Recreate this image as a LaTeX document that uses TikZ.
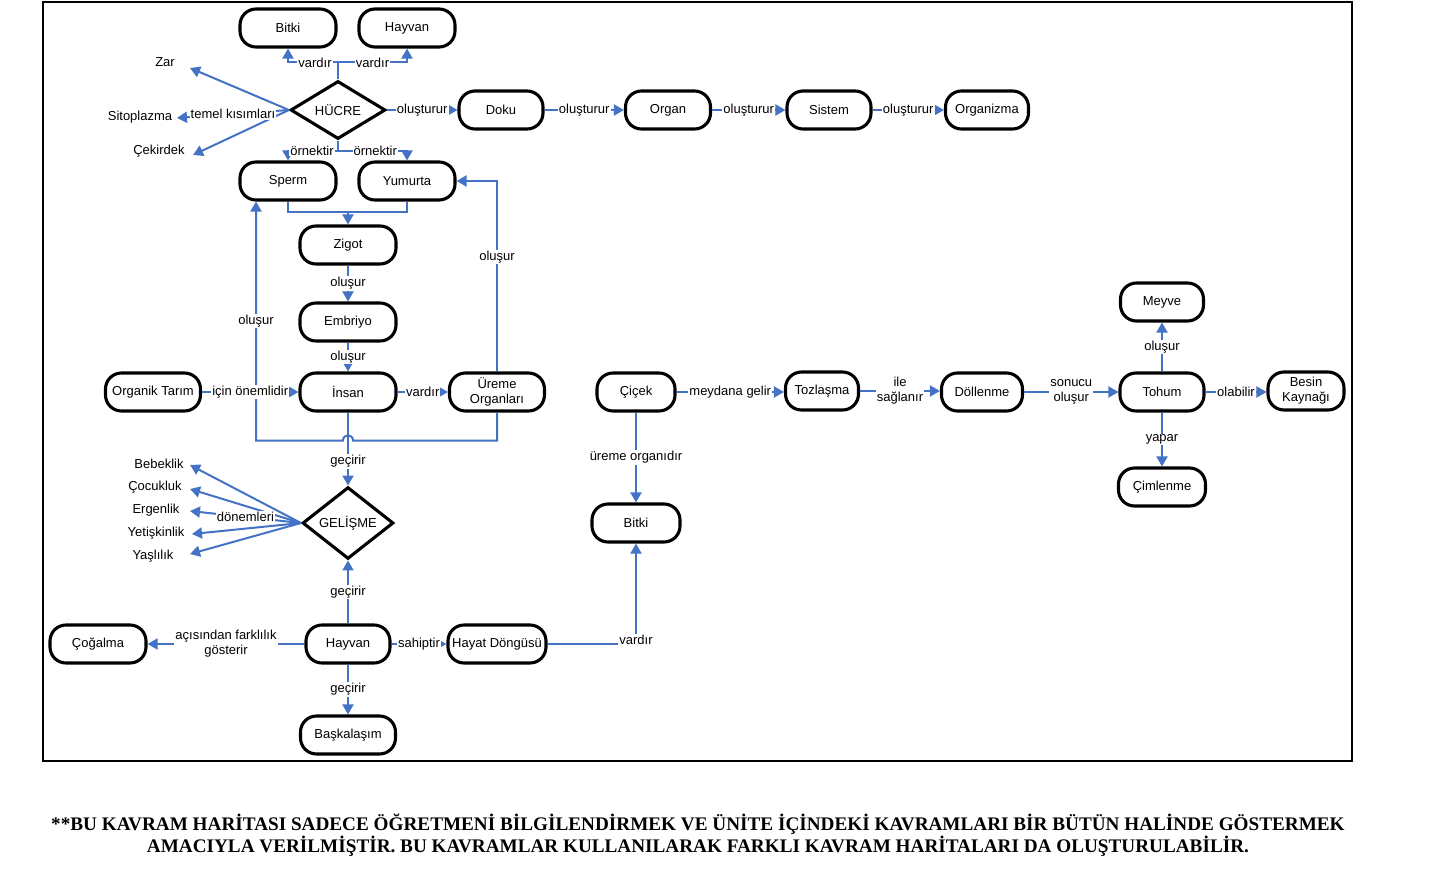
\documentclass[tikz,border=0pt]{standalone}
\usepackage{fontspec}
\setmainfont{Liberation Sans}
\newfontfamily\serifb{Liberation Serif}
\usetikzlibrary{shapes.geometric,arrows.meta,calc}
\definecolor{arrblue}{RGB}{68,114,196}
\newcommand{\nf}{\fontsize{13}{15}\selectfont}
\newcommand{\footf}{\serifb\bfseries\fontsize{19.2}{20}\selectfont}
\begin{document}
\begin{tikzpicture}[x=1pt,y=-1pt,
 box/.style={draw=black, line width=3.1pt, rounded corners=16pt, minimum height=38pt, inner sep=1pt, align=center, font=\nf},
 dia/.style={draw=black, line width=3.1pt, diamond, inner sep=0pt, font=\nf},
 ln/.style={draw=arrblue, line width=2pt},
 arr/.style={ln, -{Triangle[width=11pt,length=10pt]}},
 lab/.style={fill=white, inner sep=1pt, font=\nf, align=center},
 txt/.style={font=\nf, inner sep=0pt}
]
\useasboundingbox (0,0) rectangle (1448,875);
\draw[line width=1.2pt] (43,2) rectangle (1352,761);

% nodes
\node[box, minimum width=96pt] (bitkiT) at (288,28) {Bitki};
\node[box, minimum width=96pt] (hayvanT) at (407,28) {Hayvan};
\node[dia, minimum width=95pt, minimum height=58pt] (hucre) at (338,110) {HÜCRE};
\node[box, minimum width=84pt] (doku) at (501,110) {Doku};
\node[box, minimum width=85pt] (organ) at (668,110) {Organ};
\node[box, minimum width=84pt] (sistem) at (829,110) {Sistem};
\node[box, minimum width=83pt] (organizma) at (987,110) {Organizma};
\node[txt] (zar) at (165,62) {Zar};
\node[txt] (sito) at (140,117) {Sitoplazma};
\node[txt] (cek) at (159,151) {Çekirdek};
\node[box, minimum width=96pt] (sperm) at (288,181) {Sperm};
\node[box, minimum width=96pt] (yumurta) at (407,181) {Yumurta};
\node[box, minimum width=96pt] (zigot) at (348,245) {Zigot};
\node[box, minimum width=96pt] (embriyo) at (348,322) {Embriyo};
\node[box, minimum width=96pt] (insan) at (348,392) {İnsan};
\node[box, minimum width=95pt] (ureme) at (497,392) {Üreme\\Organları};
\node[box, minimum width=95pt] (organik) at (153,392) {Organik Tarım};
\node[dia, minimum width=91pt, minimum height=57pt] (gel) at (348,523) {GELİŞME};
\node[txt] (bebek) at (159,464) {Bebeklik};
\node[txt] (cocuk) at (155,487) {Çocukluk};
\node[txt] (ergen) at (156,510) {Ergenlik};
\node[txt] (yetis) at (156,533) {Yetişkinlik};
\node[txt] (yasli) at (153,556) {Yaşlılık};
\node[box, minimum width=84pt] (hayvanB) at (348,644) {Hayvan};
\node[box, minimum width=96pt] (cogalma) at (98,644) {Çoğalma};
\node[box, minimum width=98pt] (hayat) at (497,644) {Hayat Döngüsü};
\node[box, minimum width=95pt] (baskal) at (348,735) {Başkalaşım};
\node[box, minimum width=88pt] (bitkiB) at (636,523) {Bitki};
\node[box, minimum width=78pt] (cicek) at (636,392) {Çiçek};
\node[box, minimum width=73pt] (tozlasma) at (822,391) {Tozlaşma};
\node[box, minimum width=81pt] (dollenme) at (982,392) {Döllenme};
\node[box, minimum width=84pt] (tohum) at (1162,392) {Tohum};
\node[box, minimum width=76pt] (besin) at (1306,391) {Besin\\Kaynağı};
\node[box, minimum width=83pt] (meyve) at (1162,302) {Meyve};
\node[box, minimum width=87pt] (cimlenme) at (1162,487) {Çimlenme};

% HÜCRE connectors
\coordinate (ht) at ($(hucre.north)+(0,-17)$);
\draw[ln] (hucre.north) -- (ht);
\draw[arr] (ht) -| node[lab,pos=0.23]{vardır} (bitkiT.south);
\draw[arr] (ht) -| node[lab,pos=0.25]{vardır} (hayvanT.south);
\coordinate (zarT) at (190,68);
\coordinate (sitoT) at (177,118);
\coordinate (cekT) at (193,155);
\draw[arr] (hucre.west) -- (zarT);
\draw[arr] (hucre.west) -- (cekT);
\draw[arr] (hucre.west) -- node[lab]{temel kısımları} (sitoT);
\draw[arr] (hucre.east) -- node[lab]{oluşturur} (doku.west);
\draw[arr] (doku.east) -- node[lab]{oluşturur} (organ.west);
\draw[arr] (organ.east) -- node[lab]{oluşturur} (sistem.west);
\draw[arr] (sistem.east) -- node[lab]{oluşturur} (organizma.west);
\coordinate (hb) at ($(hucre.south)+(0,10)$);
\draw[ln] (hucre.south) -- (hb);
\draw[arr] (hb) -| node[lab,pos=0.26]{örnektir} (sperm.north);
\draw[arr] (hb) -| node[lab,pos=0.27]{örnektir} (yumurta.north);

% Sperm / Yumurta -> Zigot
\coordinate (sj) at ($(sperm.south)+(0,10)$);
\draw[ln] (sperm.south) -- (sj) -| (yumurta.south);
\draw[arr] (zigot.north |- sj) -- (zigot.north);
\draw[arr] (zigot.south) -- node[lab]{oluşur} (embriyo.north);
\draw[arr] (embriyo.south) -- node[lab]{oluşur} (insan.north);
\draw[arr] (ureme.north) |- node[lab,pos=0.3]{oluşur} (yumurta.east);
\coordinate (ub) at ($(ureme.south)+(0,28)$);
\coordinate (hop) at (insan.south |- ub);
\coordinate (sp) at ($(sperm.south)+(-32,0)$);
\draw[arr] (ureme.south) -- (ub) -- ($(hop)+(5,0)$) .. controls ($(hop)+(5,-7)$) and ($(hop)+(-5,-7)$) .. ($(hop)+(-5,0)$) -- (sp |- ub) -- node[lab]{oluşur} (sp);
\draw[arr] (organik.east) -- node[lab]{için önemlidir} (insan.west);
\draw[arr] (insan.east) -- node[lab]{vardır} (ureme.west);

% GELİŞME
\draw[arr] (insan.south) -- node[lab,pos=0.67]{geçirir} (gel.north);
\coordinate (t1) at (190,465);
\coordinate (t2) at (190,489);
\coordinate (t3) at (190,511);
\coordinate (t4) at (192,534);
\coordinate (t5) at (190,554);
\draw[arr] (gel.west) -- (t1);
\draw[arr] (gel.west) -- (t2);
\draw[arr] (gel.west) -- (t4);
\draw[arr] (gel.west) -- (t5);
\draw[arr] (gel.west) -- node[lab]{dönemleri} (t3);
\draw[arr] (hayvanB.north) -- node[lab]{geçirir} (gel.south);
\draw[arr] (hayvanB.west) -- node[lab]{açısından farklılık\\gösterir} (cogalma.east);
\draw[arr] (hayvanB.east) -- node[lab]{sahiptir} (hayat.west);
\draw[arr] (hayvanB.south) -- node[lab]{geçirir} (baskal.north);
\draw[arr] (hayat.east) -| node[lab,pos=0.5,yshift=4pt]{vardır} (bitkiB.south);

% plant chain
\draw[arr] (cicek.south) -- node[lab]{üreme organıdır} (bitkiB.north);
\draw[arr] (cicek.east) -- node[lab]{meydana gelir} (cicek.east -| tozlasma.west);
\draw[arr] (tozlasma.east) -- node[lab]{ile\\sağlanır} (tozlasma.east -| dollenme.west);
\draw[arr] (dollenme.east) -- node[lab]{sonucu\\oluşur} (tohum.west);
\draw[arr] (tohum.east) -- node[lab]{olabilir} (tohum.east -| besin.west);
\draw[arr] (tohum.north) -- node[lab]{oluşur} (meyve.south);
\draw[arr] (tohum.south) -- node[lab]{yapar} (cimlenme.north);

% footer
\node[font=\footf, align=center, inner sep=0pt] (foot) at (698,835) {**BU KAVRAM HARİTASI SADECE ÖĞRETMENİ BİLGİLENDİRMEK VE ÜNİTE İÇİNDEKİ KAVRAMLARI BİR BÜTÜN HALİNDE GÖSTERMEK\\AMACIYLA VERİLMİŞTİR. BU KAVRAMLAR KULLANILARAK FARKLI KAVRAM HARİTALARI DA OLUŞTURULABİLİR.};
\end{tikzpicture}
\end{document}
